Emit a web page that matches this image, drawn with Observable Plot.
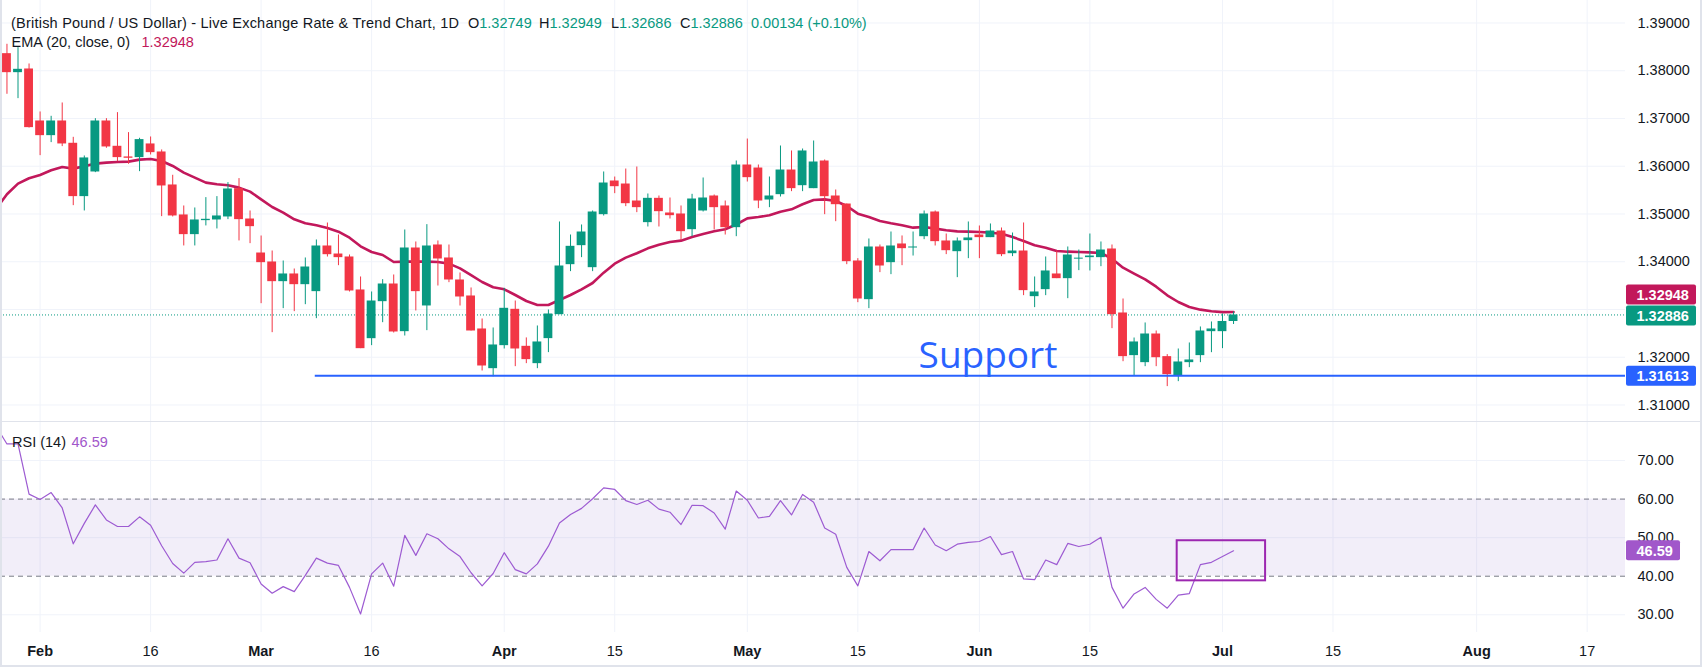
<!DOCTYPE html>
<html>
<head>
<meta charset="utf-8">
<script src="https://cdn.jsdelivr.net/npm/d3@7"></script>
<script src="https://cdn.jsdelivr.net/npm/@observablehq/plot@0.6"></script>
<style>
  html, body { margin: 0; padding: 0; background: #ffffff; }
  #chart { position: relative; width: 1702px; height: 671px; overflow: hidden; background: #ffffff; }
  #chart > svg, #chart > .layer { position: absolute; left: 0; }
  .frame { position: absolute; left: 0; top: -2px; width: 1702px; height: 669px; box-sizing: border-box;
           border: 2px solid #E0E3EB; border-top: none; pointer-events: none; }
  .sep { position: absolute; left: 0; top: 421px; width: 1702px; height: 1px; background: #E0E3EB; }
</style>
</head>
<body>
<div id="chart"></div>
<script>
// GBP/USD daily candles, bar index 0 = first trading day of February
const firstBar = -3;
const opens = [
  1.38358, 1.37960, 1.38037, 1.36948, 1.36641, 1.36948, 1.36481, 1.35364, 1.35880, 1.36948,
  1.36418, 1.36195, 1.36181, 1.36467, 1.36299, 1.35608, 1.34980, 1.34568, 1.34861, 1.34875,
  1.34938, 1.35531, 1.34895, 1.34183, 1.33995, 1.33583, 1.33744, 1.33520, 1.33374, 1.34330,
  1.34162, 1.34100, 1.33409, 1.32389, 1.33164, 1.33534, 1.32536, 1.34288, 1.33074, 1.34351,
  1.34079, 1.33618, 1.33283, 1.32592, 1.31761, 1.32243, 1.33004, 1.32229, 1.31866, 1.32390,
  1.32892, 1.33939, 1.34337, 1.33876, 1.34986, 1.35691, 1.35628, 1.35272, 1.34819, 1.35328,
  1.35021, 1.35000, 1.34672, 1.35063, 1.35377, 1.35168, 1.34714, 1.36026, 1.35963, 1.35293,
  1.35405, 1.35921, 1.35593, 1.35531, 1.36110, 1.35377, 1.35209, 1.34016, 1.33206, 1.34309,
  1.33981, 1.34372, 1.34288, 1.34525, 1.35042, 1.34435, 1.34211, 1.34442, 1.34560, 1.34505,
  1.34644, 1.34169, 1.34225, 1.33269, 1.33416, 1.33744, 1.33646, 1.34058, 1.34086, 1.34086,
  1.34267, 1.32927, 1.32034, 1.31887, 1.32487, 1.32013, 1.31615, 1.31887, 1.32034, 1.32536,
  1.32536, 1.32749
];
const highs = [
  1.38554, 1.38484, 1.38142, 1.37137, 1.37046, 1.37325, 1.36606, 1.36215, 1.36997, 1.36997,
  1.37123, 1.36704, 1.36586, 1.36613, 1.36341, 1.35811, 1.35168, 1.35126, 1.35343, 1.35364,
  1.35657, 1.35741, 1.35063, 1.34539, 1.34225, 1.34016, 1.33848, 1.34079, 1.34456, 1.34811,
  1.34560, 1.34142, 1.33681, 1.33367, 1.33625, 1.33723, 1.34665, 1.34414, 1.34777, 1.34435,
  1.34351, 1.33765, 1.33451, 1.32801, 1.32613, 1.33444, 1.33178, 1.32405, 1.32655, 1.32990,
  1.34833, 1.34560, 1.34770, 1.35063, 1.35880, 1.35774, 1.35942, 1.35984, 1.35419, 1.35377,
  1.35335, 1.35168, 1.35412, 1.35754, 1.35398, 1.35272, 1.36110, 1.36570, 1.36026, 1.35775,
  1.36424, 1.36320, 1.36361, 1.36529, 1.36131, 1.35503, 1.35209, 1.34065, 1.34477, 1.34351,
  1.34623, 1.34540, 1.34623, 1.35063, 1.35063, 1.34581, 1.34498, 1.34833, 1.34749, 1.34791,
  1.34707, 1.34602, 1.34812, 1.33681, 1.34100, 1.34225, 1.34309, 1.34246, 1.34581, 1.34414,
  1.34351, 1.33220, 1.32403, 1.32718, 1.32550, 1.32055, 1.32173, 1.32299, 1.32634, 1.32739,
  1.32906, 1.32949
];
const lows = [
  1.37507, 1.37416, 1.36800, 1.36222, 1.36495, 1.36411, 1.35175, 1.35064, 1.35866, 1.36376,
  1.36097, 1.36041, 1.35887, 1.36236, 1.34945, 1.34938, 1.34331, 1.34331, 1.34750, 1.34687,
  1.34882, 1.34436, 1.34379, 1.33122, 1.32515, 1.33018, 1.32955, 1.33101, 1.32808, 1.34099,
  1.33918, 1.33367, 1.32180, 1.32243, 1.32724, 1.32508, 1.32445, 1.32969, 1.32557, 1.33492,
  1.33562, 1.33073, 1.32550, 1.31712, 1.31590, 1.32173, 1.31803, 1.31866, 1.31761, 1.32097,
  1.32892, 1.33793, 1.34086, 1.33793, 1.34958, 1.35426, 1.35154, 1.35028, 1.34728, 1.34728,
  1.34895, 1.34449, 1.34525, 1.35042, 1.34665, 1.34560, 1.34525, 1.35670, 1.35112, 1.35133,
  1.35356, 1.35468, 1.35468, 1.35531, 1.34986, 1.34839, 1.33939, 1.33143, 1.33018, 1.33772,
  1.33730, 1.33918, 1.34120, 1.34463, 1.34330, 1.34149, 1.33667, 1.34065, 1.34065, 1.34505,
  1.34107, 1.34107, 1.33290, 1.33039, 1.33290, 1.33646, 1.33227, 1.33814, 1.33807, 1.33897,
  1.32599, 1.31907, 1.31615, 1.31803, 1.31803, 1.31385, 1.31489, 1.31782, 1.31887, 1.32096,
  1.32180, 1.32686
];
const closes = [
  1.37960, 1.38030, 1.36809, 1.36641, 1.36948, 1.36467, 1.35364, 1.36174, 1.36948, 1.36404,
  1.36181, 1.36167, 1.36558, 1.36285, 1.35587, 1.34959, 1.34568, 1.34875, 1.34889, 1.34959,
  1.35524, 1.34882, 1.34735, 1.33981, 1.33583, 1.33744, 1.33520, 1.33890, 1.34330, 1.34148,
  1.34086, 1.33388, 1.32180, 1.33178, 1.33534, 1.32529, 1.34288, 1.33374, 1.34330, 1.34058,
  1.33618, 1.33262, 1.32550, 1.31817, 1.32257, 1.33025, 1.32173, 1.31950, 1.32320, 1.32906,
  1.33911, 1.34323, 1.34623, 1.35042, 1.35649, 1.35572, 1.35216, 1.35133, 1.35328, 1.35049,
  1.34965, 1.34630, 1.35314, 1.35335, 1.35133, 1.34714, 1.36026, 1.35761, 1.35272, 1.35377,
  1.35921, 1.35531, 1.36320, 1.36089, 1.35363, 1.35195, 1.34002, 1.33220, 1.34309, 1.33911,
  1.34330, 1.34274, 1.34309, 1.35000, 1.34421, 1.34232, 1.34435, 1.34498, 1.34505, 1.34644,
  1.34148, 1.34225, 1.33395, 1.33367, 1.33807, 1.33646, 1.34141, 1.34072, 1.34120, 1.34246,
  1.32892, 1.32013, 1.32320, 1.32487, 1.31991, 1.31636, 1.31901, 1.31943, 1.32550, 1.32592,
  1.32749, 1.32886
];

// EMA (20, close) readings per bar, starting one bar before the first candle
const emaFirstBar = -4;
const emaValues = [
  1.35100, 1.35413, 1.35636, 1.35748, 1.35818, 1.35915, 1.35985, 1.35950, 1.35999, 1.36055,
  1.36076, 1.36090, 1.36097, 1.36139, 1.36153, 1.36111, 1.36006, 1.35867, 1.35762, 1.35657,
  1.35622, 1.35601, 1.35552, 1.35469, 1.35307, 1.35147, 1.35028, 1.34888, 1.34805, 1.34763,
  1.34707, 1.34630, 1.34504, 1.34323, 1.34204, 1.34141, 1.33995, 1.34002, 1.34002, 1.34002,
  1.33995, 1.33960, 1.33862, 1.33722, 1.33576, 1.33465, 1.33423, 1.33304, 1.33178, 1.33095,
  1.33095, 1.33199, 1.33304, 1.33423, 1.33555, 1.33772, 1.33960, 1.34086, 1.34177, 1.34281,
  1.34358, 1.34414, 1.34442, 1.34518, 1.34581, 1.34637, 1.34680, 1.34780, 1.34909, 1.34937,
  1.34972, 1.35049, 1.35098, 1.35203, 1.35293, 1.35307, 1.35272, 1.35168, 1.35007, 1.34937,
  1.34853, 1.34805, 1.34763, 1.34714, 1.34728, 1.34693, 1.34658, 1.34637, 1.34630, 1.34623,
  1.34609, 1.34588, 1.34518, 1.34435, 1.34344, 1.34295, 1.34225, 1.34211, 1.34204, 1.34197,
  1.34183, 1.34065, 1.33876, 1.33751, 1.33632, 1.33478, 1.33297, 1.33157, 1.33053, 1.32997,
  1.32962, 1.32945, 1.32948
];

// RSI (14) readings per bar
const rsiFirstBar = -4;
const rsiValues = [
  79.0, 74.3, 74.3, 61.3, 59.9, 61.7, 57.7, 48.4, 53.7, 58.5,
  54.6, 52.9, 52.9, 55.4, 53.2, 47.9, 43.3, 40.8, 43.6, 43.8,
  44.2, 49.7, 44.7, 43.5, 38.0, 35.6, 37.3, 36.0, 40.2, 44.7,
  43.4, 42.8, 37.1, 30.2, 40.6, 43.4, 37.4, 50.6, 45.4, 51.0,
  49.7, 47.1, 45.1, 40.9, 37.5, 40.7, 46.1, 41.7, 40.6, 43.2,
  47.8, 53.8, 56.0, 57.6, 60.1, 62.9, 62.5, 59.6, 58.6, 59.7,
  57.4, 56.6, 53.4, 58.4, 58.3, 56.4, 52.2, 62.1, 59.7, 55.1,
  55.5, 59.6, 55.9, 61.2, 59.2, 52.5, 50.9, 42.3, 37.5, 46.4,
  44.0, 46.9, 46.9, 46.9, 52.5, 48.1, 46.6, 48.3, 48.8, 49.0,
  50.3, 45.6, 46.4, 39.3, 39.1, 44.2, 43.0, 48.5, 47.7, 48.3,
  50.1, 37.1, 31.7, 35.4, 37.1, 34.0, 31.7, 35.1, 35.5, 43.0,
  43.6, 45.1, 46.59
];

// Time axis ticks (bar index) and their labels
const tickBars   = [0, 10, 20, 30, 42, 52, 64, 74, 85, 95, 107, 117, 130, 140];
const tickLabels = ["Feb", "16", "Mar", "16", "Apr", "15", "May", "15", "Jun", "15", "Jul", "15", "Aug", "17"];
const monthNames = ["Jan", "Feb", "Mar", "Apr", "May", "Jun", "Jul", "Aug", "Sep", "Oct", "Nov", "Dec"];

// Price and RSI scale ticks (1.33 sits under the value tags, so it gets a grid line only)
const priceGridTicks = [1.31, 1.32, 1.33, 1.34, 1.35, 1.36, 1.37, 1.38, 1.39];
const priceLabelTicks = [1.31, 1.32, 1.34, 1.35, 1.36, 1.37, 1.38, 1.39];
const rsiTicks = [30, 40, 50, 60, 70];
const rsiGridTicks = [30, 50, 70];
const rsiBand = [40, 60];

// Annotations
const supportLevel = 1.31613;
const supportFromBar = 24.9;
const supportTextBar = 79.5;
const rsiBox = [{x1: 102.9, x2: 110.9, y1: 38.8, y2: 49.2}];

// Header values
const header = {
  title: "(British Pound / US Dollar) - Live Exchange Rate & Trend Chart, 1D",
  o: "1.32749", h: "1.32949", l: "1.32686", c: "1.32886", change: "0.00134 (+0.10%)",
  ema: "1.32948", rsi: "46.59"
};

// ---- layout ----
const W = 1702;
const plotRight = 1625;
const pricePaneH = 422;
const rsiPaneH = 210;
const axisH = 39;
const xDomain = [-3.584, 143.47];
const priceDomain = [1.306335, 1.394712];
const rsiDomain = [25.40, 79.87];
const FONT = '"Liberation Sans", Arial, sans-serif';
const FS = 14.5;

const UP = "#089981", DOWN = "#F23645", EMA_COLOR = "#C2185B", RSI_COLOR = "#9D5BD2", RSI_TAG = "#A157CA";
const GRID = "#F0F3FA", TEXT = "#131722", BLUE = "#2962FF";

const bars = opens.map((o, k) => {
  const c = closes[k];
  let top = Math.max(o, c), bot = Math.min(o, c);
  const minBody = 0.00021;
  if (top - bot < minBody) { const m = (top + bot) / 2; top = m + minBody / 2; bot = m - minBody / 2; }
  return {i: firstBar + k, o, h: highs[k], l: lows[k], c, top, bot, up: c >= o};
});
const ema = emaValues.map((v, k) => ({i: emaFirstBar + k, v}));
const rsi = rsiValues.map((v, k) => ({i: rsiFirstBar + k, v}));
const lastClose = closes[closes.length - 1];
const lastEma = emaValues[emaValues.length - 1];

const chart = document.getElementById("chart");

// ---- price pane ----
const pricePlot = Plot.plot({
  width: W, height: pricePaneH,
  marginLeft: 0, marginRight: W - plotRight, marginTop: 0, marginBottom: 0,
  x: {domain: xDomain, axis: null},
  y: {domain: priceDomain, axis: null},
  style: {fontFamily: FONT, fontSize: FS + "px", color: TEXT, background: "transparent", overflow: "visible"},
  marks: [
    Plot.gridX(tickBars, {stroke: GRID, strokeOpacity: 1}),
    Plot.gridY(priceGridTicks, {stroke: GRID, strokeOpacity: 1}),
    Plot.axisY(priceLabelTicks, {anchor: "right", tickSize: 0, tickPadding: 12, tickFormat: d3.format(".5f"),
      fontSize: FS, fill: TEXT}),
    Plot.ruleY([lastClose], {x1: xDomain[0], x2: xDomain[1], stroke: UP, strokeWidth: 1, strokeDasharray: "1 2"}),
    Plot.line(ema, {x: "i", y: "v", stroke: EMA_COLOR, strokeWidth: 2.6, clip: true}),
    Plot.ruleX(bars, {x: "i", y1: "l", y2: "h", stroke: d => d.up ? UP : DOWN, strokeWidth: 1, clip: true}),
    Plot.rect(bars, {x1: d => d.i - 0.4, x2: d => d.i + 0.4, y1: "bot", y2: "top",
      fill: d => d.up ? UP : DOWN, clip: true}),
    Plot.ruleY([supportLevel], {x1: supportFromBar, x2: xDomain[1], stroke: BLUE, strokeWidth: 2}),
    Plot.text(["Support"], {x: supportTextBar, y: supportLevel, text: d => d, textAnchor: "start",
      lineAnchor: "bottom", dy: -8, fontSize: 37, fill: BLUE, fontFamily: '"Open Sans", sans-serif'})
  ]
});
pricePlot.style.top = "0px";
chart.appendChild(pricePlot);

// value tags on the price scale
function addTags(svg, tags) {
  const g = d3.select(svg).append("g").attr("font-family", FONT).attr("font-size", FS)
    .attr("font-weight", "bold").attr("text-anchor", "start");
  for (const t of tags) {
    g.append("rect").attr("x", plotRight + 1).attr("y", t.cy - 10).attr("width", t.w).attr("height", 20)
      .attr("rx", 2).attr("fill", t.color);
    g.append("text").attr("x", plotRight + 11.5).attr("y", t.cy).attr("dy", "0.36em").attr("fill", "#ffffff").text(t.text);
  }
}
const py = pricePlot.scale("y");
const closeY = py.apply(lastClose) + 1;
let emaY = py.apply(lastEma);
if (Math.abs(emaY - closeY) < 21) emaY = closeY - 21;
addTags(pricePlot, [
  {cy: emaY, text: d3.format(".5f")(lastEma), color: EMA_COLOR, w: 70},
  {cy: closeY, text: d3.format(".5f")(lastClose), color: UP, w: 70},
  {cy: py.apply(supportLevel) + 0.5, text: d3.format(".5f")(supportLevel), color: BLUE, w: 70}
]);

// ---- RSI pane with time axis ----
const labelOf = i => tickLabels[tickBars.indexOf(i)];
const monthTicks = tickBars.filter(i => monthNames.includes(labelOf(i)));
const dayTicks = tickBars.filter(i => !monthNames.includes(labelOf(i)));

const rsiPlot = Plot.plot({
  width: W, height: rsiPaneH + axisH,
  marginLeft: 0, marginRight: W - plotRight, marginTop: 0, marginBottom: axisH,
  x: {domain: xDomain, axis: null},
  y: {domain: rsiDomain, axis: null},
  style: {fontFamily: FONT, fontSize: FS + "px", color: TEXT, background: "transparent", overflow: "visible"},
  marks: [
    Plot.gridX(tickBars, {stroke: GRID, strokeOpacity: 1}),
    Plot.gridY(rsiGridTicks, {stroke: GRID, strokeOpacity: 1}),
    Plot.rect([rsiBand], {x1: xDomain[0], x2: xDomain[1], y1: d => d[0], y2: d => d[1], fill: "#7E57C2", fillOpacity: 0.1}),
    Plot.ruleY(rsiBand, {stroke: "#787B86", strokeWidth: 1, strokeDasharray: "5 4"}),
    Plot.line(rsi, {x: "i", y: "v", stroke: RSI_COLOR, strokeWidth: 1.2, clip: true}),
    Plot.rect(rsiBox, {x1: "x1", x2: "x2", y1: "y1", y2: "y2", fill: "none", stroke: "#9C27B0", strokeWidth: 2}),
    Plot.axisY(rsiTicks, {anchor: "right", tickSize: 0, tickPadding: 12, tickFormat: d3.format(".2f"), fontSize: FS, fill: TEXT}),
    Plot.axisX(monthTicks, {anchor: "bottom", tickSize: 0, tickPadding: 13, tickFormat: labelOf, fontSize: FS, fontWeight: "bold", fill: TEXT}),
    Plot.axisX(dayTicks, {anchor: "bottom", tickSize: 0, tickPadding: 13, tickFormat: labelOf, fontSize: FS, fill: TEXT})
  ]
});
rsiPlot.style.top = pricePaneH + "px";
chart.appendChild(rsiPlot);
const ry = rsiPlot.scale("y");
const lastRsi = rsiValues[rsiValues.length - 1];
addTags(rsiPlot, [{cy: ry.apply(lastRsi), text: d3.format(".2f")(lastRsi), color: RSI_TAG, w: 54}]);

// ---- pane separator and frame ----
const sep = document.createElement("div"); sep.className = "sep"; chart.appendChild(sep);
const frame = document.createElement("div"); frame.className = "frame"; chart.appendChild(frame);

// ---- legend lines ----
const legend = d3.select(chart).append("svg").attr("class", "layer")
  .attr("width", W).attr("height", 671).style("top", "0px").style("pointer-events", "none")
  .attr("font-family", FONT).attr("font-size", FS);
legend.append("text").attr("x", 11).attr("y", 27.5).attr("fill", TEXT)
  .attr("textLength", 448).attr("lengthAdjust", "spacing").text(header.title);
const t1 = legend.append("text").attr("y", 27.5);
[["O", header.o, 468], ["H", header.h, 539], ["L", header.l, 611], ["C", header.c, 680]].forEach(([k, v, x]) => {
  t1.append("tspan").attr("x", x).attr("fill", TEXT).text(k);
  t1.append("tspan").attr("fill", UP).text(v);
});
t1.append("tspan").attr("x", 751).attr("fill", UP).text(header.change);
const t2 = legend.append("text").attr("y", 46.5);
t2.append("tspan").attr("x", 11.5).attr("fill", TEXT).text("EMA (20, close, 0)");
t2.append("tspan").attr("x", 141.5).attr("fill", EMA_COLOR).text(header.ema);
const t3 = legend.append("text").attr("y", 447);
t3.append("tspan").attr("x", 12).attr("fill", TEXT).text("RSI (14)");
t3.append("tspan").attr("x", 71.5).attr("fill", RSI_TAG).text(header.rsi);
</script>
</body>
</html>
